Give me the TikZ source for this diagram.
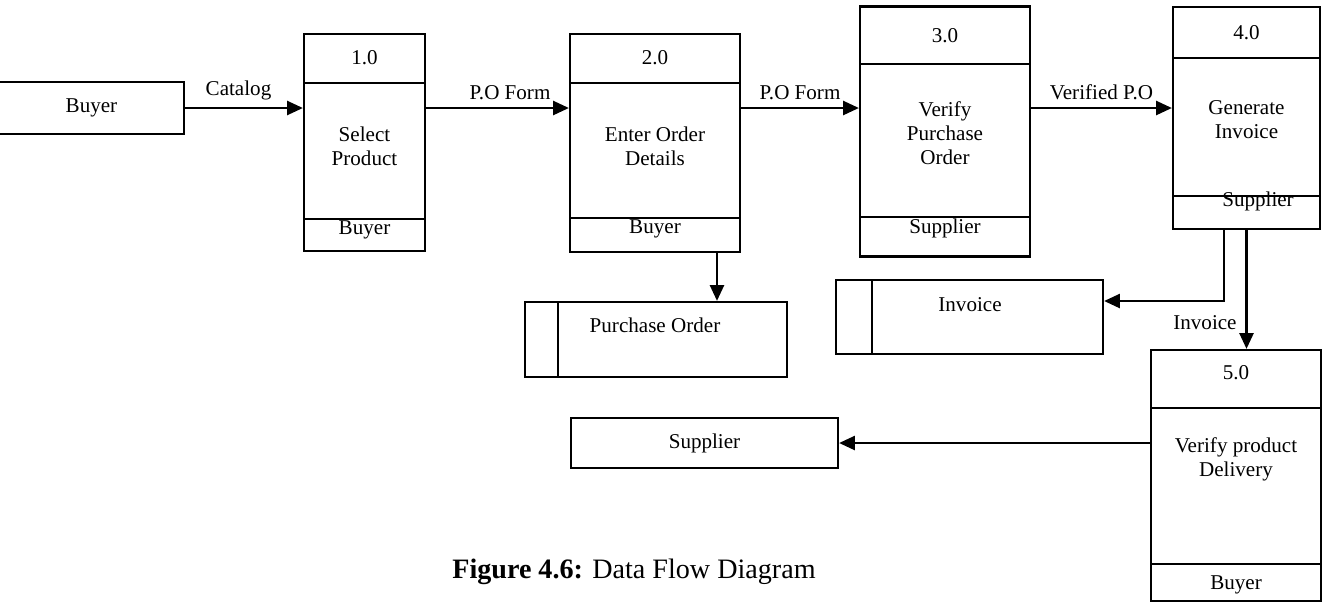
\documentclass[tikz,border=0pt]{standalone}
\usepackage{fontspec}
\setmainfont{Liberation Serif}
\usepackage{tikz}
\usetikzlibrary{arrows.meta}
\tikzset{
  proc/.style={draw, inner sep=0pt},
  store/.style={draw, inner sep=0pt},
  txt/.style={font=\fontsize{12}{13.6}\selectfont, align=center, inner sep=1pt},
  flow/.style={->},
}

\begin{document}
\begin{tikzpicture}[line join=miter,>={Triangle[length=9pt,width=8pt]},line width=1.3pt,x=0.02cm,y=-0.02cm]
\useasboundingbox (0,0) rectangle (1328,603);
% external entities
\node [txt, minimum width=3.66cm, minimum height=1cm] (buyer) at (91.5,108) {Buyer};
\draw (buyer.north west) -- (buyer.north east) -- (buyer.south east) -- (buyer.south west);
\node [txt, draw, minimum width=5.34cm, minimum height=1cm] (sup) at (704.5,443) {Supplier};
% processes
\node [proc, minimum width=2.42cm, minimum height=4.34cm] (p1) at (364.5,142.5) {};
\draw (304,83) -- (425,83);
\draw (304,219) -- (425,219);
\node [txt] (p1id) at (364.5,58) {1.0};
\node [txt] (p1name) at (364.5,146) {Select\\Product};
\node [txt, anchor=north] (p1who) at (364.5,218) {Buyer};
\node [proc, minimum width=3.4cm, minimum height=4.36cm] (p2) at (655,143) {};
\draw (570,83) -- (740,83);
\draw (570,218) -- (740,218);
\node [txt] (p2id) at (655,58) {2.0};
\node [txt] (p2name) at (655,146) {Enter Order\\Details};
\node [txt, anchor=north] (p2who) at (655,217) {Buyer};
\node [proc, minimum width=3.4cm, minimum height=5cm] (p3) at (945,131.5) {};
\draw (860,64) -- (1030,64);
\draw (860,217) -- (1030,217);
\node [txt] (p3id) at (945,36) {3.0};
\node [txt] (p3name) at (945,133) {Verify\\Purchase\\Order};
\node [txt, anchor=north] (p3who) at (945,216) {Supplier};
\node [proc, minimum width=2.94cm, minimum height=4.44cm] (p4) at (1246.5,118) {};
\draw (1173,58) -- (1320,58);
\draw (1173,196) -- (1320,196);
\node [txt] (p4id) at (1246.5,33) {4.0};
\node [txt] (p4name) at (1246.5,120) {Generate\\Invoice};
\node [txt] (p4who) at (1258,201) {Supplier};
\node [proc, minimum width=3.4cm, minimum height=5.02cm] (p5) at (1236,475.5) {};
\draw (1151,408) -- (1321,408);
\draw (1151,564) -- (1321,564);
\node [txt] (p5id) at (1236,373) {5.0};
\node [txt] (p5name) at (1236,459) {Verify product\\Delivery};
\node [txt] (p5who) at (1236,585) {Buyer};
% data stores
\node [store, minimum width=5.24cm, minimum height=1.5cm] (po) at (656,339.5) {};
\draw (558,302) -- (558,377);
\node [txt] (potxt) at (655,325) {Purchase Order};
\node [store, minimum width=5.34cm, minimum height=1.48cm] (inv) at (969.5,317) {};
\draw (872,280) -- (872,354);
\node [txt] (invtxt) at (970,305) {Invoice};
% data flows
\draw [flow] (buyer.east) -- (buyer.east -| p1.west) node [txt, midway, above=3pt, xshift=-0.1cm] (l1) {Catalog};
\draw [flow] (p1.east |- buyer.east) -- (p2.west |- buyer.east) node [txt, midway, above=3pt, xshift=0.25cm] (l2) {P.O Form};
\draw [flow] (p2.east |- buyer.east) -- (p3.west |- buyer.east) node [txt, midway, above=3pt] (l3) {P.O Form};
\draw [flow] (p3.east |- buyer.east) -- (p4.west |- buyer.east) node [txt, midway, above=3pt] (l4) {Verified P.O};
\draw [flow] ([xshift=1.24cm]p2.south) -- ([xshift=1.24cm]p2.south |- po.north);
\draw [flow] ([xshift=-0.45cm]p4.south) |- ([yshift=0.32cm]inv.east);
\draw [flow] (p4.south) -- (p4.south |- p5.north) node [txt, pos=0.78, left=4pt] (l5) {Invoice};
\draw [flow] (p5.west |- sup.east) -- (sup.east);
% caption
\node [font=\fontsize{16}{19}\selectfont] (caption) at (634,572) {\textbf{Figure 4.6:} Data Flow Diagram};
\end{tikzpicture}
\end{document}
